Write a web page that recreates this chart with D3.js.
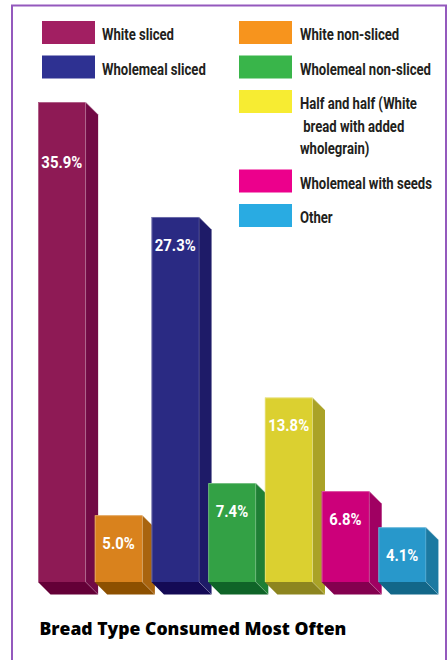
<!DOCTYPE html>
<html>
<head>
<meta charset="utf-8">
<script src="https://cdn.jsdelivr.net/npm/d3@7"></script>
<style>
  html, body { margin: 0; padding: 0; background: #ffffff; }
  svg { display: block; }
  text { white-space: pre; }
</style>
</head>
<body>
<svg id="chart" width="447" height="660"></svg>
<script>
// ---- data ----
const categories = [
  "White sliced",
  "White non-sliced",
  "Wholemeal sliced",
  "Wholemeal non-sliced",
  "Half and half (White bread with added wholegrain)",
  "Wholemeal with seeds",
  "Other"
];
const values = [35.9, 5.0, 27.3, 7.4, 13.8, 6.8, 4.1];
const valueLabels = ["35.9%", "5.0%", "27.3%", "7.4%", "13.8%", "6.8%", "4.1%"];
const legendLines = [
  ["White sliced"],
  ["White non-sliced"],
  ["Wholemeal sliced"],
  ["Wholemeal non-sliced"],
  ["Half and half (White", " bread with added", "wholegrain)"],
  ["Wholemeal with seeds"],
  ["Other"]
];
const legendColumn1 = [0, 2];
const legendColumn2 = [1, 3, 4, 5, 6];
const chartTitle = "Bread Type Consumed Most Often";

// ---- styles ----
const swatchColors = ["#a21f62", "#f7941d", "#2e3192", "#39b54a", "#f7ec32", "#ec008c", "#29abe2"];
const frontColors  = ["#8e1a55", "#d9821d", "#2a2a83", "#33a145", "#dbd030", "#cc007a", "#2898cb"];
const sideColors   = ["#720a45", "#a9640f", "#1e1b68", "#1f7f35", "#aaa227", "#a00062", "#1b79a1"];
const bottomColors = ["#640037", "#8d5000", "#140a55", "#0f6428", "#8d851f", "#84004f", "#126789"];

const svg = d3.select("#chart");
const condFont = "Roboto, 'Liberation Sans', 'DejaVu Sans', sans-serif";

function measure(str, size, family, weight) {
  const t = svg.append("text")
    .attr("font-family", family).attr("font-weight", weight)
    .attr("font-size", size).text(str);
  const w = t.node().getComputedTextLength();
  t.remove();
  return w;
}
// horizontal condensing factors (reference uses a condensed face)
const legendSize = 16;
const legendFactor = 72 / measure("White sliced", legendSize, condFont, "bold");
const labelSize = 17;
const labelFactor = 41 / measure("35.9%", labelSize, condFont, "bold");

// frame
svg.append("rect")
  .attr("x", 12).attr("y", 5.5)
  .attr("width", 434).attr("height", 700)
  .attr("fill", "none")
  .attr("stroke", "#9459bd")
  .attr("stroke-width", 2);

// ---- scales ----
const x = d3.scaleBand().domain(categories).range([38, 435]).paddingInner(0).paddingOuter(0);
const y = d3.scaleLinear().domain([0, d3.max(values)]).range([582, 102]);
const depth = 12.5;
const frontW = x.step() * 0.84;

const bars = svg.append("g").attr("class", "bars");
categories.forEach((c, i) => {
  const x0 = x(c), x1 = x0 + frontW;
  const yt = y(values[i]), yb = y(0);
  const g = bars.append("g");
  g.append("path")
    .attr("d", `M${x0},${yb}L${x1},${yb}L${x1 + depth},${yb + depth}L${x0 + depth},${yb + depth}Z`)
    .attr("fill", bottomColors[i]);
  g.append("path")
    .attr("d", `M${x1},${yt}L${x1 + depth},${yt + depth}L${x1 + depth},${yb + depth}L${x1},${yb}Z`)
    .attr("fill", sideColors[i]);
  g.append("rect")
    .attr("x", x0).attr("y", yt)
    .attr("width", frontW).attr("height", yb - yt)
    .attr("fill", frontColors[i]);
  g.append("path")
    .attr("d", `M${x0 + 0.5},${yb}L${x0 + 0.5},${yt + 0.5}L${x1},${yt + 0.5}L${x1 + depth},${yt + depth}`)
    .attr("fill", "none")
    .attr("stroke", "#ffffff")
    .attr("stroke-opacity", 0.3)
    .attr("stroke-width", 1);
  g.append("path")
    .attr("d", `M${x1},${yt}L${x1},${yb}L${x1 + depth},${yb + depth}`)
    .attr("fill", "none")
    .attr("stroke", "#ffffff")
    .attr("stroke-opacity", 0.2)
    .attr("stroke-width", 0.8);
  // value label
  const h = yb - yt;
  const off = h > 400 ? h * 0.137 : 34;
  g.append("text")
    .attr("transform", `translate(${x0 + frontW / 2},${yt + off}) scale(${labelFactor},1)`)
    .attr("text-anchor", "middle")
    .attr("fill", "#ffffff")
    .attr("font-family", condFont)
    .attr("font-weight", "bold")
    .attr("font-size", labelSize)
    .text(valueLabels[i]);
});

// ---- legend ----
function drawLegend(indices, sx, tx) {
  let top = 21;
  indices.forEach(i => {
    svg.append("rect")
      .attr("x", sx).attr("y", top)
      .attr("width", 53).attr("height", 23)
      .attr("fill", swatchColors[i]);
    legendLines[i].forEach((line, k) => {
      svg.append("text")
        .attr("transform", `translate(${tx},${top + 19 + k * 22.5}) scale(${legendFactor},1)`)
        .attr("font-family", condFont)
        .attr("font-weight", "bold")
        .attr("font-size", legendSize)
        .attr("fill", "#231f20")
        .text(line);
    });
    top += 34.5 + (legendLines[i].length - 1) * 22.5;
  });
}
drawLegend(legendColumn1, 42, 102);
drawLegend(legendColumn2, 239, 300);

// ---- title ----
const title = svg.append("text")
  .attr("x", 39.5)
  .attr("y", 635)
  .attr("font-family", "'Open Sans', Lato, 'DejaVu Sans', sans-serif")
  .attr("font-weight", 800)
  .attr("font-size", 17)
  .attr("fill", "#000000")
  .text(chartTitle);
const tw = title.node().getComputedTextLength();
title.attr("font-size", 17 * 307 / tw);
</script>
</body>
</html>
